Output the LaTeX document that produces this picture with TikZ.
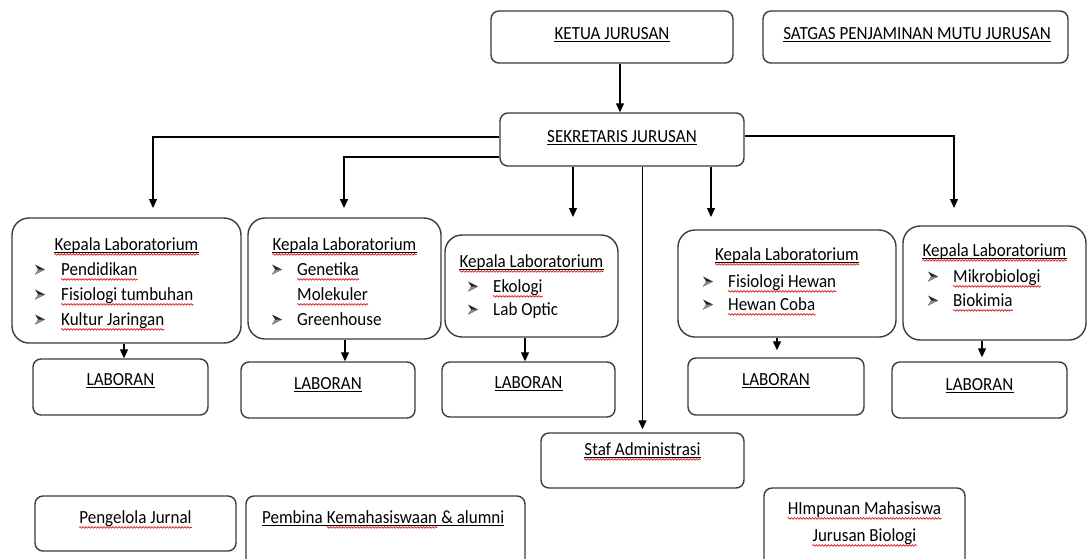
\documentclass[tikz,border=0pt]{standalone}
\usepackage{fontspec}
\setmainfont{Carlito}[FakeStretch=0.92]
\usetikzlibrary{arrows.meta,decorations.pathmorphing}
\definecolor{spell}{RGB}{225,25,25}
\definecolor{edge}{RGB}{60,60,60}
% box from its corners (x1,y1) to (x2,y2)
\newcommand\rbox[6][box]{\node[#1, minimum width={(#5-#3)*1pt}, minimum height={(#6-#4)*1pt}] (#2) at ({(#3+#5)/2},{(#4+#6)/2}) {};}
% underline and red wavy spelling mark under a text node (or from one node to another)
\newcommand\undl[2][]{\draw[undlline] ([yshift=-2.6pt]#2.base west) -- ([yshift=-2.6pt]\ifx&#1&#2\else#1\fi.base east);}
\newcommand\spl[1]{\draw[splline] ([yshift=-4.4pt]#1.base west) -- ([yshift=-4.4pt]#1.base east);}
\tikzset{
  box/.style={draw=edge, line width=1.4pt, rounded corners=8pt, inner sep=0pt, fill=white},
  labbox/.style={box, rounded corners=17pt},
  txt/.style={inner sep=0pt, anchor=base, font=\fontsize{18.5}{21}\selectfont},
  item/.style={txt, anchor=base west},
  % arrowhead bullet, centred on the x-height of its line
  bul/.style={inner sep=0pt, minimum width=10pt, minimum height=10pt, yshift=5.5pt,
    path picture={
      \fill[black!85] (path picture bounding box.north west)
        -- (path picture bounding box.east)
        -- (path picture bounding box.south west)
        -- ([xshift=3.2pt]path picture bounding box.west) -- cycle;
      \fill[black!45] (path picture bounding box.east)
        -- (path picture bounding box.south west)
        -- ([xshift=3.2pt]path picture bounding box.west) -- cycle;}},
  undlline/.style={line width=1pt, black},
  splline/.style={spell, line width=0.7pt, decorate,
    decoration={snake, amplitude=0.8pt, segment length=3pt}},
  conn/.style={line width=1.2pt, black},
  arr/.style={conn, -{Triangle[length=9pt,width=8pt]}}
}
\begin{document}
\begin{tikzpicture}[x=1pt,y=-1pt]
\useasboundingbox (0,0) rectangle (1087,558);
\clip (0,0) rectangle (1087,558);
\fill[white] (0,0) rectangle (1087,558);

% top level
\rbox{ketua}{491}{11}{733}{63}
\rbox{satgas}{763}{11}{1068}{63}
\rbox{sek}{500}{113}{744}{166}
\node[txt] (ketuaT) at (612,39) {KETUA JURUSAN};
\node[txt] (satgasT) at (917,39) {SATGAS PENJAMINAN MUTU JURUSAN};
\node[txt] (sekT) at (622,142) {SEKRETARIS JURUSAN};
\undl{ketuaT} \undl{satgasT} \undl{sekT}

% laboratories
\rbox[labbox]{lab1}{12}{218}{241}{343}
\rbox[labbox]{lab2}{248}{218}{441}{339}
\rbox[labbox]{lab3}{445}{235}{618}{337}
\rbox[labbox]{lab4}{678}{230}{896}{337}
\rbox[labbox]{lab5}{903}{226}{1086}{340}

\node[txt] (lab1T) at (126.5,250) {Kepala Laboratorium};
\node[bul] (b1a) at (40,275) {};
\node[item] (i1a) at (61,275) {Pendidikan};
\node[bul] (b1b) at (40,300) {};
\node[item] (i1b) at (61,300) {Fisiologi tumbuhan};
\node[bul] (b1c) at (40,325) {};
\node[item] (i1c) at (61,325) {Kultur Jaringan};
\undl{lab1T} \spl{lab1T} \spl{i1a} \spl{i1b} \spl{i1c}

\node[txt] (lab2T) at (344.5,250) {Kepala Laboratorium};
\node[bul] (b2a) at (277,275) {};
\node[item] (i2a) at (297,275) {Genetika};
\node[item] (i2b) at (297,300) {Molekuler};
\node[bul] (b2c) at (277,325) {};
\node[item] (i2c) at (297,325) {Greenhouse};
\undl{lab2T} \spl{lab2T} \spl{i2a} \spl{i2b}

\node[txt] (lab3T) at (531.5,267) {Kepala Laboratorium};
\node[bul] (b3a) at (473,292) {};
\node[item] (i3a) at (493,292) {Ekologi};
\node[bul] (b3b) at (473,315) {};
\node[item] (i3b) at (493,315) {Lab Optic};
\undl{lab3T} \spl{lab3T} \spl{i3a}

\node[txt] (lab4T) at (787,260) {Kepala Laboratorium};
\node[bul] (b4a) at (708,287) {};
\node[item] (i4a) at (728,287) {Fisiologi Hewan};
\node[bul] (b4b) at (708,310) {};
\node[item] (i4b) at (728,310) {Hewan Coba};
\undl{lab4T} \spl{lab4T} \spl{i4a} \spl{i4b}

\node[txt] (lab5T) at (994.5,256) {Kepala Laboratorium};
\node[bul] (b5a) at (933,282) {};
\node[item] (i5a) at (953,282) {Mikrobiologi};
\node[bul] (b5b) at (933,306) {};
\node[item] (i5b) at (953,306) {Biokimia};
\undl{lab5T} \spl{lab5T} \spl{i5a} \spl{i5b}

% laboran
\rbox{lr1}{33}{359}{208}{415}
\rbox{lr2}{241}{362}{415}{418}
\rbox{lr3}{442}{362}{615}{417}
\rbox{lr4}{688}{358}{864}{415}
\rbox{lr5}{892}{362}{1067}{418}
\node[txt] (lr1T) at (120.5,385) {LABORAN};
\node[txt] (lr2T) at (328,389) {LABORAN};
\node[txt] (lr3T) at (528.5,388) {LABORAN};
\node[txt] (lr4T) at (776,385) {LABORAN};
\node[txt] (lr5T) at (979.5,390) {LABORAN};
\undl{lr1T} \undl{lr2T} \undl{lr3T} \undl{lr4T} \undl{lr5T}

% other units
\rbox{staf}{541}{433}{744}{488}
\rbox{jurnal}{35}{496}{236}{551}
\rbox{pembina}{246}{496}{525}{576}
\rbox{hima}{764}{488}{965}{576}
\node[txt] (stafT) at (642.5,455) {Staf Administrasi};
\node[txt] (jurnalT) at (135.5,523) {Pengelola Jurnal};
\node[item] (pemb1) at (262,523) {Pembina\ \null};
\node[item] (pemb2) at (pemb1.base east) {Kemahasiswaan};
\node[item] (pemb3) at (pemb2.base east) {\ \& alumni};
\node[txt] (himaT1) at (864.5,514) {HImpunan Mahasiswa};
\node[txt] (himaT2) at (864.5,541) {Jurusan Biologi};
\undl{stafT} \spl{stafT} \spl{jurnalT}
\undl[pemb3]{pemb1} \spl{pemb2}
\spl{himaT1} \spl{himaT2}

% arrow ends that stop short of their boxes
\coordinate (t1) at (153,208);
\coordinate (t2) at (344,208);
\coordinate (t3) at (573,217);
\coordinate (t4) at (711,217);
\coordinate (t5) at (954,208);

% connectors
\draw[arr] (ketua.south -| 620,0) -- (sek.north -| 620,0);
\draw[arr] ([yshift=2.5pt]sek.west) -| (t1);
\draw[arr] ([yshift=-17.5pt]sek.west) -| (t2);
\draw[arr] (sek.south -| t3) -- (t3);
\draw[arr] (sek.south -| staf.north) -- ([yshift=3pt]staf.north);
\draw[arr] (sek.south -| t4) -- (t4);
\draw[arr] ([yshift=3.5pt]sek.east) -| (t5);

\draw[arr] (lab1.south -| 124,0) -- (lr1.north -| 124,0);
\draw[arr] (lab2.south -| 345,0) -- (lr2.north -| 345,0);
\draw[arr] (lab3.south -| 525,0) -- (lr3.north -| 525,0);
\draw[arr, shorten >=7pt] (lab4.south -| 777,0) -- (lr4.north -| 777,0);
\draw[arr, shorten >=4pt] (lab5.south -| 982,0) -- (lr5.north -| 982,0);
\end{tikzpicture}
\end{document}
